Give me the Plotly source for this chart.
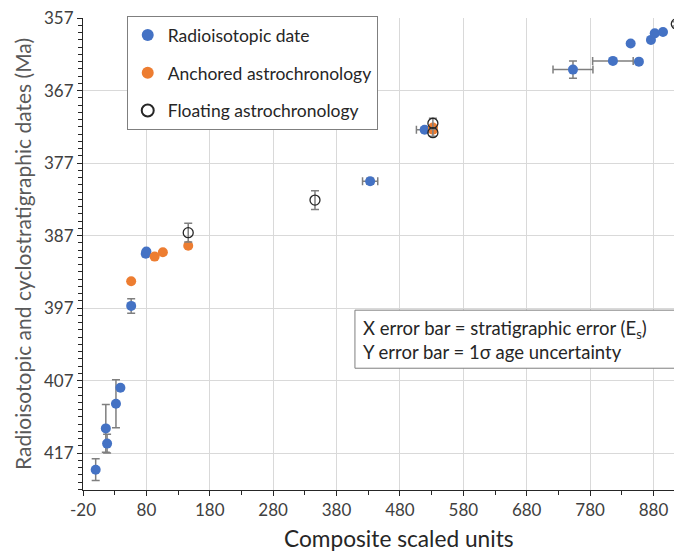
import plotly.graph_objects as go

# Radioisotopic dates
radio_x = [0, 16, 18, 32, 39, 56, 79, 80, 433, 519, 753, 816, 844, 857, 876, 882, 895]
radio_y = [419.3, 413.6, 415.7, 410.2, 408.0, 396.7, 389.5, 389.2, 379.5, 372.4, 364.1, 362.9, 360.5, 363.0, 360.0, 359.1, 358.9]
radio_yerr = [1.5, 3.3, 1.3, 3.3, None, 1.0, 0.4, None, 0.4, 0.3, 1.2, None, None, None, None, None, None]
radio_xerr = [None, None, None, None, None, None, None, None, 12, 13, 31.5, 32, None, None, None, None, None]

# Anchored astrochronology
anch_x = [56, 93, 106, 146, 532, 532]
anch_y = [393.3, 389.9, 389.3, 388.4, 372.1, 372.4]

# Floating astrochronology
float_x = [146, 346, 532, 532, 916]
float_y = [386.6, 382.1, 371.5, 372.8, 357.8]
float_yerr = [1.3, 1.3, 0.7, 0.5, 0.3]

x_ticks = [-20, 80, 180, 280, 380, 480, 580, 680, 780, 880]
y_ticks = [357, 367, 377, 387, 397, 407, 417]

FONT = "Lato"
ERR = "#7f7f7f"

fig = go.Figure()
fig.add_trace(go.Scatter(
    x=radio_x, y=radio_y, mode="markers", name="Radioisotopic date",
    marker=dict(color="#4472C4", size=10),
    error_y=dict(type="data", array=radio_yerr, color=ERR, thickness=1.5, width=4),
    error_x=dict(type="data", array=radio_xerr, color=ERR, thickness=1.5, width=4),
    legendgroup="a"))
fig.add_trace(go.Scatter(
    x=anch_x, y=anch_y, mode="markers", name="Anchored astrochronology",
    marker=dict(color="#ED7D31", size=10), legendgroup="b"))
fig.add_trace(go.Scatter(
    x=float_x, y=float_y, mode="markers", name="Floating astrochronology",
    marker=dict(symbol="circle-open", color="#262626", size=10, line=dict(width=1.3)),
    error_y=dict(type="data", array=float_yerr, color=ERR, thickness=1.5, width=4),
    legendgroup="c"))

# the page body has an 8px margin, so the figure is sized and placed to compensate
fig.update_layout(
    width=674, height=544,
    margin=dict(l=75, r=0, t=10, b=62),
    paper_bgcolor="white", plot_bgcolor="white",
    font=dict(family=FONT, color="#404040", size=15),
    showlegend=True,
    legend=dict(x=0.073, y=1.004, xanchor="left", yanchor="top",
                bordercolor="#7f7f7f", borderwidth=1, bgcolor="white",
                font=dict(size=17.5, color="#262626"),
                traceorder="grouped", tracegroupgap=12,
                itemsizing="constant", itemwidth=30),
    xaxis=dict(range=[-20, 925], tickvals=x_ticks, ticktext=[str(v) for v in x_ticks],
               showgrid=True, gridcolor="#d9d9d9", gridwidth=1,
               zeroline=False, showline=True, linecolor="#262626", linewidth=1,
               ticks="outside", ticklen=5, tickcolor="#262626",
               minor=dict(dtick=50, tick0=-20, ticks="outside", ticklen=4, tickcolor="#262626", showgrid=False),
               tickfont=dict(size=17, color="#404040"), ticklabeloverflow="allow"),
    yaxis=dict(range=[422.1, 356.98], tickvals=y_ticks, ticktext=[str(v) for v in y_ticks],
               showgrid=True, gridcolor="#d9d9d9", gridwidth=1,
               zeroline=False, showline=True, linecolor="#262626", linewidth=1,
               ticks="outside", ticklen=5, tickcolor="#262626",
               minor=dict(dtick=1, tick0=357, ticks="outside", ticklen=4, tickcolor="#262626", showgrid=False),
               tickfont=dict(size=17, color="#404040"), ticklabeloverflow="allow",
               title=dict(text="Radioisotopic and cyclostratigraphic dates (Ma)", font=dict(size=21, color="#595959"), standoff=6)),
)

# x-axis title (the source chart is cropped on the right, so its title sits right of the visible centre)
fig.add_annotation(xref="paper", yref="paper", x=0.528, y=-0.1017, xanchor="center", yanchor="middle",
                   text="Composite scaled units", showarrow=False,
                   font=dict(size=22.7, color="#262626"))

fig.add_shape(type="rect", xref="paper", yref="paper",
              x0=0.454, x1=1.02, y0=0.258, y1=0.381,
              line=dict(color="#7f7f7f", width=1), fillcolor="white", layer="above")
fig.add_annotation(xref="paper", yref="paper", x=0.464, y=0.339, xanchor="left", yanchor="middle",
                   text="X error bar = stratigraphic error (E<sub>s</sub>)", showarrow=False,
                   font=dict(size=18.5, color="#262626"))
fig.add_annotation(xref="paper", yref="paper", x=0.464, y=0.292, xanchor="left", yanchor="middle",
                   text="Y error bar = 1σ age uncertainty", showarrow=False,
                   font=dict(size=18.5, color="#262626"))

fig.write_html("out.html")
